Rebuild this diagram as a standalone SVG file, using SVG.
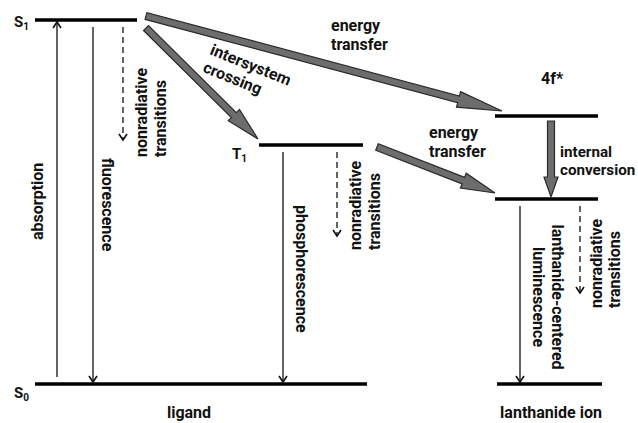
<svg xmlns="http://www.w3.org/2000/svg" width="638" height="423" viewBox="0 0 638 423">
<defs>
<marker id="ah" viewBox="-8 -5 10 10" refX="0" refY="0" markerWidth="10" markerHeight="10" markerUnits="userSpaceOnUse" orient="auto">
<path d="M-6,-4 L0,0 L-6,4" fill="none" stroke="#111" stroke-width="1.6"/>
</marker>
<style>
.lvl{stroke:#000;stroke-width:3.5;fill:none}
.thin{stroke:#111;stroke-width:1.3;fill:none;marker-end:url(#ah)}
.dash{stroke:#111;stroke-width:1.3;fill:none;stroke-dasharray:6,4;marker-end:url(#ah)}
.big{fill:#6d6d6d;stroke:#2a2a2a;stroke-width:1.2;stroke-linejoin:miter}
text{font-family:Roboto,"Liberation Sans",sans-serif;font-weight:bold;font-size:16px;fill:#111}
.lab{font-size:15px}
.sub{font-size:10px}
.ic{font-size:15.2px}
</style>
</defs>

<g id="S1">
<line class="lvl" x1="35" y1="20" x2="137" y2="20"/>
<text class="lab" x="14" y="27">S<tspan class="sub" dy="3">1</tspan></text>
</g>
<g id="T1">
<line class="lvl" x1="259" y1="145" x2="363" y2="145"/>
<text class="lab" x="232" y="159">T<tspan class="sub" dy="3">1</tspan></text>
</g>
<g id="S0">
<line class="lvl" x1="35" y1="384" x2="367" y2="384"/>
<text class="lab" x="14" y="398">S<tspan class="sub" dy="3">0</tspan></text>
</g>
<g id="Ln4f">
<line class="lvl" x1="495" y1="116" x2="598" y2="116"/>
<text x="541" y="84">4f*</text>
</g>
<g id="LnEmit">
<line class="lvl" x1="495" y1="199" x2="598" y2="199"/>
</g>
<g id="LnGround">
<line class="lvl" x1="497" y1="384" x2="602" y2="384"/>
</g>

<g id="connectors">
<line class="thin" x1="57" y1="377" x2="57" y2="22"/>
<line class="thin" x1="93" y1="27" x2="93" y2="382"/>
<line class="dash" x1="123" y1="27" x2="123" y2="140"/>
<line class="thin" x1="283" y1="152" x2="283" y2="382"/>
<line class="dash" x1="337" y1="152" x2="337" y2="236"/>
<line class="thin" x1="520" y1="206" x2="520" y2="382"/>
<line class="dash" x1="580" y1="206" x2="580" y2="293"/>
<polygon class="big" points="143.54,30.49 231.39,117.56 228.22,120.75 258,139 239.48,109.39 236.31,112.56 148.46,25.51"/>
<polygon class="big" points="145.10,19.38 457.62,102.78 456.46,107.13 502,111 460.58,91.67 459.42,96.02 146.90,12.62"/>
<polygon class="big" points="375.73,150.26 462.05,183.91 460.41,188.10 495,193 466.23,173.20 464.59,177.39 378.27,143.74"/>
<polygon class="big" points="547.5,121 554.5,121 554.5,177 558,177 551,197 544,177 547.5,177"/>
</g>

<g id="labels">
<text transform="translate(43,240) rotate(-90)">absorption</text>
<text transform="translate(102,158) rotate(90)">fluorescence</text>
<text transform="translate(146.5,157) rotate(-90)">nonradiative<tspan x="0" dy="19">transitions</tspan></text>
<text transform="translate(209,54) rotate(22)">intersystem<tspan x="0" dy="19">crossing</tspan></text>
<text x="331" y="31">energy<tspan x="331" dy="18.5">transfer</tspan></text>
<text transform="translate(296,205) rotate(90)">phosphorescence</text>
<text transform="translate(360.5,250) rotate(-90)">nonradiative<tspan x="0" dy="19">transitions</tspan></text>
<text x="429" y="138">energy<tspan x="429" dy="18.5">transfer</tspan></text>
<text class="ic" x="560" y="156.5">internal<tspan x="560" dy="18.5">conversion</tspan></text>
<text transform="translate(552,297) rotate(90)" text-anchor="middle">lanthanide-centered<tspan x="0" dy="19">luminescence</tspan></text>
<text transform="translate(601.5,308) rotate(-90)">nonradiative<tspan x="0" dy="18.5">transitions</tspan></text>
<text x="189" y="418" text-anchor="middle">ligand</text>
<text x="551" y="418" text-anchor="middle">lanthanide ion</text>
</g>
</svg>
